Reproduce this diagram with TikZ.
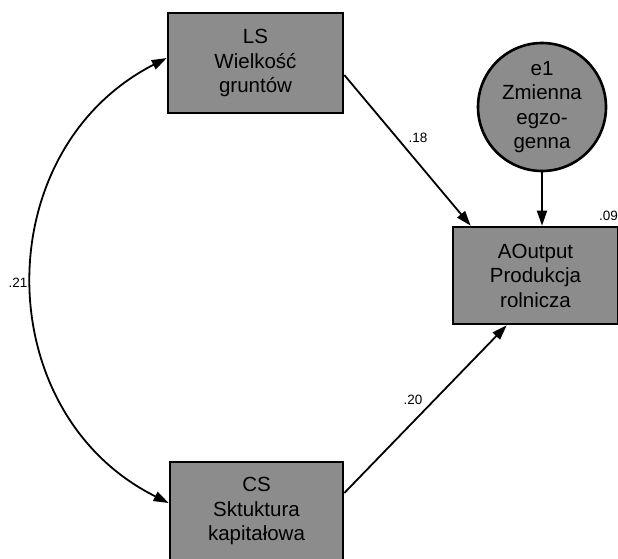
\documentclass[tikz,border=0pt]{standalone}
\usepackage{fontspec}
\setmainfont{Liberation Sans}
\usetikzlibrary{arrows.meta,calc}
\definecolor{boxgray}{RGB}{140,140,140}
\begin{document}
\begin{tikzpicture}[x=1pt,y=-1pt,
  var/.style={draw=black,line width=2.6pt,fill=boxgray,inner sep=0pt,align=center,
    font=\fontsize{20.5}{24.5}\selectfont},
  obs/.style={var,rectangle},
  lat/.style={var,circle,minimum size=128pt},
  arr/.style={line width=1.8pt,-{Triangle[length=15pt,width=10pt]}},
  cov/.style={line width=1.8pt,{Triangle[length=15pt,width=10pt]}-{Triangle[length=15pt,width=10pt]}},
  coef/.style={font=\fontsize{13.5}{15}\selectfont,inner sep=0pt}
]
\useasboundingbox (0,0) rectangle (618,558);

\node[obs,minimum width=175pt,minimum height=100pt] (LS) at (255.5,63) {LS\\Wielkość\\gruntów};
\node[obs,minimum width=173pt,minimum height=98pt] (CS) at (256.5,511) {CS\\Sktuktura\\kapitałowa};
\node[obs,minimum width=165pt,minimum height=97pt] (AO) at (535.5,275.5) {AOutput\\Produkcja\\rolnicza};
\node[lat] (e1) at (542,107) {e1\\Zmienna\\egzo-\\genna};

\draw[arr] ([yshift=-12pt]LS.east) -- ([xshift=19pt]AO.north west);
\draw[arr] ([yshift=18pt]CS.east) -- ([xshift=55pt]AO.south west);
\draw[arr] (e1.south) -- (e1.south |- AO.north);
\draw[cov] ([yshift=5pt]LS.west) .. controls (-13,150) and (-12,413) .. ([yshift=8pt]CS.west);

\node[coef] (c18) at (418,138) {.18};
\node[coef] (c20) at (413,400) {.20};
\node[coef] (c21) at (18,283) {.21};
\node[coef,anchor=east] (c09) at (618,216) {.09};
\end{tikzpicture}
\end{document}
